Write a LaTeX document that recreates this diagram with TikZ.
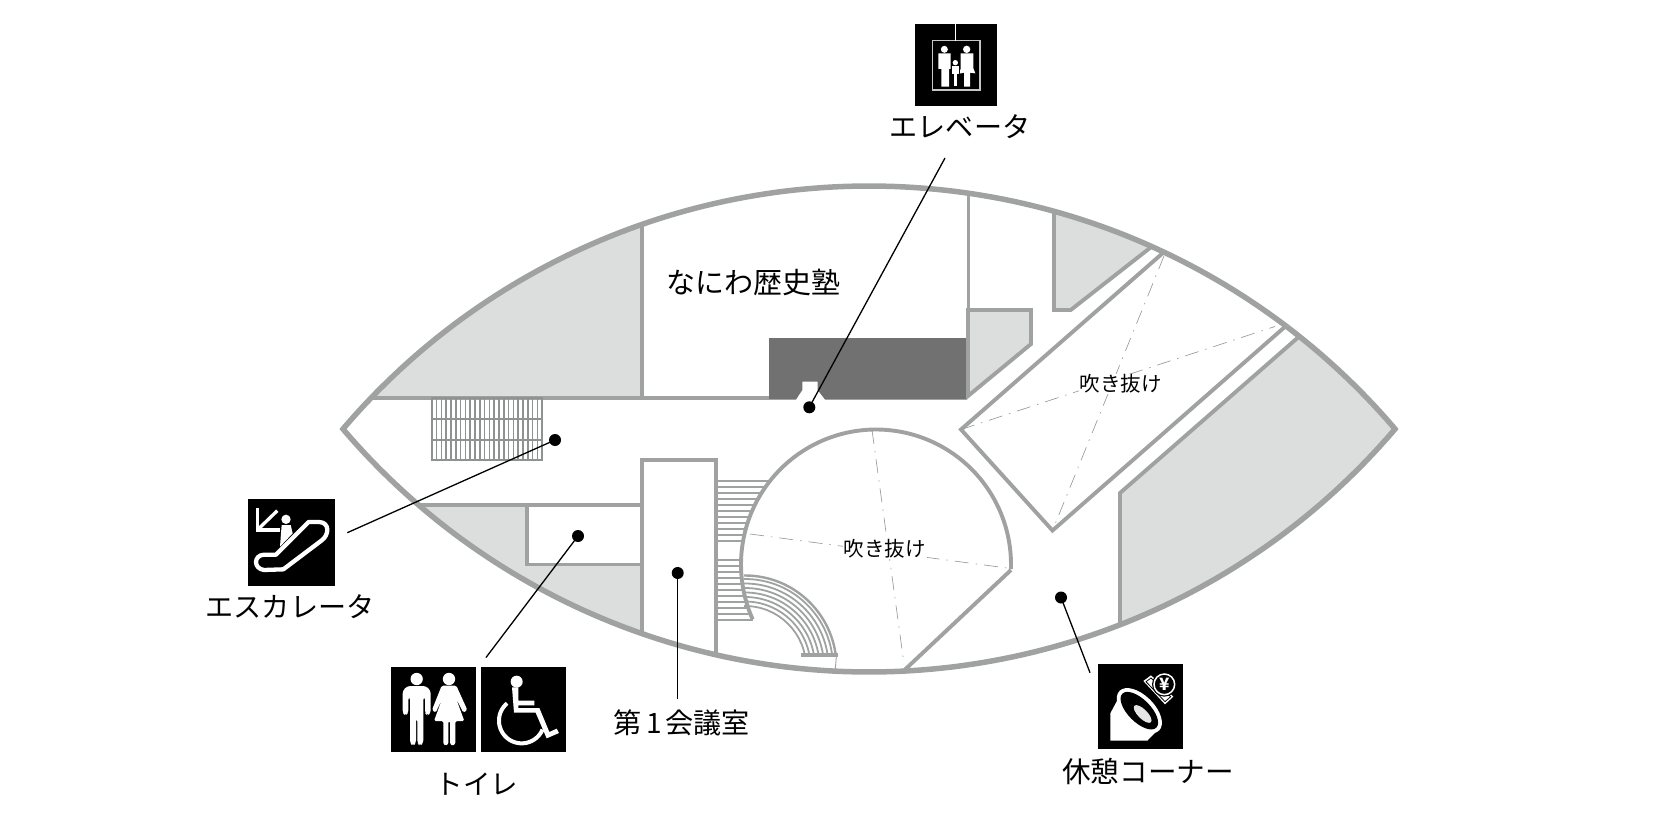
\documentclass[tikz,border=0pt]{standalone}
\usepackage{fontspec}
\newfontfamily\cjk{Noto Sans CJK JP}
\definecolor{wall}{HTML}{A0A2A1}
\definecolor{roomgray}{HTML}{DCDDDD}
\definecolor{darkroom}{HTML}{717171}
\tikzset{
  wallline/.style={draw=wall,line width=3.9pt,line join=miter},
  thinwall/.style={draw=wall,line width=3pt},
  stairline/.style={draw=wall,line width=1.8pt},
  gridline/.style={draw=wall!90!black,line width=1.6pt},
  axisline/.style={draw=gray!80,line width=0.65pt,dash pattern=on 14pt off 7pt on 1.5pt off 7pt},
  leader/.style={draw=black,line width=1.3pt},
  dot/.style={circle,fill=black,inner sep=0pt,minimum size=12pt},
  iconsq/.style={fill=black,inner sep=0pt,minimum size=#1},
  biglabel/.style={font=\cjk\fontsize{28.1}{31}\selectfont,inner sep=0pt,text=black},
  smalllabel/.style={font=\cjk\fontsize{20.5}{23}\selectfont,inner sep=0pt,text=black},
  zoomed/.style={x=0.33333pt,y=-0.33333pt},
}
\def\lens{(343,429) -- plot[domain=139.3:40.7,samples=120] ({869+691*cos(\x)},{877-691*sin(\x)}) -- (1395,429) -- plot[domain=40.7:139.3,samples=120] ({869+691*cos(\x)},{-19+691*sin(\x)}) -- cycle}
\begin{document}
\begin{tikzpicture}[x=1pt,y=-1pt]
\useasboundingbox (0,0) rectangle (1667,813);
\fill[white] (0,0) rectangle (1667,813);

% gray rooms, clipped by the lens outline
\begin{scope}
  \clip \lens;
  \fill[roomgray] (300,398) -- (642,398) -- (642,150) -- (300,150) -- cycle;
  \fill[roomgray] (1054,150) -- (1054,310) -- (1070.7,310) -- (1155,244) -- (1155,150) -- cycle;
  \fill[roomgray] (968,310) -- (1031,310) -- (1031,344) -- (968,396) -- cycle;
  \fill[roomgray] (1298,339) -- (1120,493) -- (1120,680) -- (1420,680) -- (1420,339) -- cycle;
  \fill[roomgray] (380,505) -- (526.7,505) -- (526.7,564.5) -- (642,564.5) -- (642,680) -- (380,680) -- cycle;
  % upper-left walls
  \draw[wallline] (300,398) -- (769,398);
  \draw[wallline] (642,398) -- (642,150);
  \draw[thinwall] (968.3,150) -- (968.3,310);
  \draw[wallline] (1054,150) -- (1054,310) -- (1070.7,310) -- (1155,244);
  % atrium walls
  \draw[wallline] (1172,245) -- (961,429.5) -- (1052.5,530.5) -- (1295,318);
  % lower-right room
  \draw[wallline] (1120,680) -- (1120,493) -- (1310,327);
  % circular atrium
  \draw[wallline] plot[domain=-2:204,samples=80,smooth] ({876+135*cos(\x)},{564.5-135*sin(\x)});
  \draw[wallline] (1011,570) -- (896,678);
  % lower-left walls
  \draw[wallline] (380,505) -- (642,505);
  \draw[wallline] (526.7,505) -- (526.7,564.5) -- (642,564.5);
  \draw[wallline] (642,680) -- (642,460) -- (716,460) -- (716,680);
\end{scope}

% dark room with notch
\fill[darkroom] (769,338) -- (967,338) -- (967,399.5) -- (825,399.5) -- (817.7,390) -- (817.7,381.7) -- (802.3,381.7) -- (802.3,390) -- (796,399.5) -- (769,399.5) -- cycle;
\draw[wallline] (968,310) -- (1031,310) -- (1031,344) -- (968,396) -- (968,310) -- cycle;

% escalator grid
\foreach \g in {431.7,436.5,...,543} \draw[gridline] (\g,397) -- (\g,460);
\foreach \g in {398,419,440,460} \draw[gridline] (431,\g) -- (543.4,\g);

% straight stairs
\foreach \g in {481,487,...,541} \draw[stairline] (717,\g) -- ({876-135*sqrt(1-((\g-564.5)/135)^2)},\g);
\foreach \g in {560,566,...,620} \draw[stairline] (717,\g) -- ({876-135*sqrt(1-((\g-564.5)/135)^2)},\g);

% curved stairs
\begin{scope}
  \clip (744,560) rectangle (842,655);
  \foreach \r in {61,65.5,...,88} \draw[stairline] (745,667) circle[radius=\r];
  \draw[wallline,line width=2.4pt] (745,667) circle[radius=91.5];
\end{scope}
\draw[wallline,line width=3.2pt] (800.5,655) -- (837.5,655);
\draw[draw=wall,line width=0.9pt] (836.5,655) -- (835,672);

% dash-dot centre lines
\draw[axisline] (961,429.5) -- (1275,326.5);
\draw[axisline] (1164,256) -- (1052.5,530.5);
\draw[axisline] (750,534) -- (1007,568);
\draw[axisline] (872,430) -- (904,664);

% outer lens wall
\draw[draw=wall,line width=5.5pt,line join=miter,miter limit=10] \lens;

% text inside the plan
\node[biglabel,font=\cjk\fontsize{29}{31}\selectfont] (juku) at (753,282) {なにわ歴史塾};
\node[smalllabel,fill=white,inner sep=1pt] (atrium1) at (1120.5,384) {吹き抜け};
\node[smalllabel,fill=white,inner sep=1pt] (atrium2) at (884.5,548.5) {吹き抜け};

% icon squares
\node[iconsq=82.6pt] (elevbox) at (956,65.2) {};
\node[iconsq=86.6pt] (escbox) at (291.7,542.3) {};
\node[iconsq=85pt] (wcbox) at (433.5,709.8) {};
\node[iconsq=85pt] (wheelbox) at (523.7,709.8) {};
\node[iconsq=85pt] (restbox) at (1140.8,706.8) {};

% labels
\node[biglabel] (elevlabel) at (960,126.5) {エレベータ};
\node[biglabel] (esclabel) at (290,607) {エスカレータ};
\node[biglabel,font=\cjk\fontsize{27.5}{30}\selectfont] (wclabel) at (477,784.5) {トイレ};
\node[biglabel] (roomlabel) at (681.5,723) {第\hspace{5pt}1\hspace{4pt}会議室};
\node[biglabel,font=\cjk\fontsize{28.6}{31}\selectfont] (restlabel) at (1148,771.5) {休憩コーナー};

% dots and leaders
\node[dot] (delev) at (809.3,407.3) {};
\node[dot] (desc) at (555,440) {};
\node[dot] (dwc) at (578,536) {};
\node[dot] (droom) at (677.7,573) {};
\node[dot] (drest) at (1061,597.5) {};
\coordinate (lelev) at (945,158);
\coordinate (lesc) at (347.3,532.7);
\coordinate (lwc) at (486,657.5);
\coordinate (lroom) at (677.7,698.5);
\coordinate (lrest) at (1090,672.7);
\draw[leader] (delev.center) -- (lelev);
\draw[leader] (desc.center) -- (lesc);
\draw[leader] (dwc.center) -- (lwc);
\draw[leader] (droom.center) -- (lroom);
\draw[leader] (drest.center) -- (lrest);

% elevator icon (zoom 1 coordinates)
\begin{scope}[shift={(880,0)},zoomed]
  \draw[draw=gray!45,line width=1.2pt] (157.5,122) rectangle (300,270);
  \draw[draw=white,line width=0.9pt] (226.5,72) -- (226.5,122);
  \fill[white] (193,148) circle[radius=10.5];
  \fill[white] (175,160) -- (212,160) -- (212,207) -- (207,207) -- (207,260) -- (184,260) -- (184,207) -- (175,207) -- cycle;
  \fill[white] (260,148) circle[radius=11];
  \fill[white] (242,160) -- (280,160) -- (280,205) -- (286,220) -- (270,218) -- (270,260) -- (252,260) -- (252,218) -- (238,221) -- (242,205) -- cycle;
  \filldraw[fill=white,draw=black,line width=0.7pt] (214,197) -- (238,197) -- (238,224) -- (232,224) -- (232,258) -- (220,258) -- (220,224) -- (214,224) -- cycle;
  \fill[white] (226,188) circle[radius=8];
\end{scope}

% escalator icon (zoom 2 coordinates)
\begin{scope}[shift={(200,480)},zoomed]
  \draw[white,line width=3.3pt,line cap=butt,line join=miter] (172,84) -- (172,150) -- (240,150);
  \draw[white,line width=3.3pt] (174,148) -- (232,92);
  \fill[white] (258,118) circle[radius=14];
  \draw[white,line width=4.3pt,line join=round,fill=black] (326,126) -- (358,126) .. controls (390,128) and (388,165) .. (364,182) -- (250,268) -- (192,270) .. controls (160,266) and (160,226) .. (192,224) -- (228,224) -- cycle;
  \fill[white] (245,135) -- (272,135) -- (278,160) -- (240,200) -- (243,160) -- cycle;
\end{scope}

% toilet icons (zoom 3 coordinates)
\begin{scope}[shift={(380,650)},zoomed]
  \fill[white] (110,87) circle[radius=18.5];
  \fill[white,rounded corners=3pt] (82,108) -- (138,108) -- (152,122) -- (152,190) -- (142,196) -- (135,190) -- (135,140) -- (130,140) -- (130,280) -- (120,287) -- (112,280) -- (112,205) -- (108,205) -- (108,280) -- (99,287) -- (90,280) -- (90,140) -- (85,140) -- (85,190) -- (76,196) -- (68,190) -- (68,122) -- cycle;
  \fill[white] (207,87) circle[radius=18.5];
  \fill[white,rounded corners=1.5pt] (185,107) -- (229,107) -- (262,180) -- (250,188) -- (228,145) -- (253,213) -- (226,213) -- (226,283) -- (218,287) -- (210,283) -- (210,213) -- (205,213) -- (205,283) -- (197,287) -- (190,283) -- (190,213) -- (162,213) -- (187,145) -- (167,188) -- (156,180) -- cycle;
  % wheelchair
  \fill[white] (410,95) circle[radius=18];
  \fill[white] (396,112) -- (415,112) -- (415,152) -- (463,152) -- (463,166) -- (415,166) -- (415,174) -- (478,174) -- (508,246) -- (530,236) -- (537,249) -- (500,265) -- (467,188) -- (402,188) -- cycle;
  \draw[white,line width=4pt] plot[domain=230:23,samples=50,smooth] ({425+68*cos(\x)},{212+68*sin(\x)});
\end{scope}

% rest corner icon (zoom 4 coordinates)
\begin{scope}[shift={(1050,650)},zoomed]
  \fill[white] (181,272) -- (181,190) -- (212,132) -- (325,238) -- (292,272) -- cycle;
  \begin{scope}[shift={(268,182)},rotate around={-45:(0,0)}]
    \fill[white] (0,0) ellipse[x radius=84,y radius=46];
    \fill[black] (0,0) ellipse[x radius=72,y radius=34];
    \fill[gray!20] (14,0) ellipse[x radius=35,y radius=14];
  \end{scope}
  \fill[white] (280,93) -- (303,76) -- (370,140) -- (345,163) -- cycle;
  \draw[black,line width=0.8pt] (288,95) -- (303,84) -- (362,140) -- (345,155) -- cycle;
  \fill[black] (343,103) circle[radius=37];
  \draw[white,line width=1.5pt] (343,103) circle[radius=31];
  \node[font=\cjk\bfseries\fontsize{17}{17}\selectfont,text=white,inner sep=0pt] (yen) at (343,104) {¥};
\end{scope}
\end{tikzpicture}
\end{document}
